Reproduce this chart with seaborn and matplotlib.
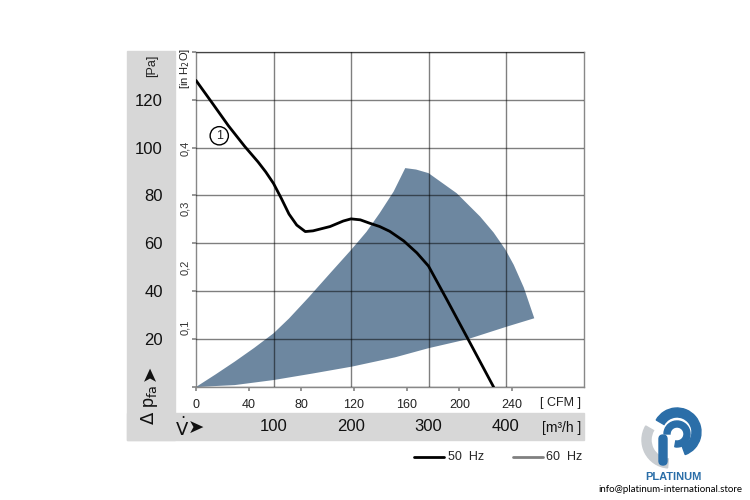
import matplotlib
matplotlib.use('Agg')
import matplotlib.pyplot as plt
import seaborn as sns
from matplotlib.patches import Rectangle, Wedge, FancyBboxPatch
from matplotlib.lines import Line2D

# 50 Hz characteristic (flow in m3/h, pressure in Pa)
curve_flow = [0, 20, 42, 63, 80, 90, 100, 110, 120, 130, 141, 151, 173, 190, 200, 212, 224, 237,
              250, 268, 285, 300, 324, 351, 384]
curve_pa = [128, 119, 109, 100.4, 94, 89.8, 85, 78.8, 72.2, 67.6, 64.9, 65.2, 67, 69.3, 70.2,
            69.8, 68.4, 67, 65, 61, 56, 50.5, 36.3, 20, 0]

# shaded operating range
low_flow = [0, 50, 100, 150, 201, 257, 300, 351, 401, 436.5]
low_pa = [0, 0.8, 2.9, 5.6, 8.5, 12.4, 16.2, 20, 25.2, 28.7]
right_flow = [436.5, 423, 410, 399, 384, 366.5, 336.4, 300, 284, 270]
right_pa = [28.7, 41.5, 51, 57.5, 64.5, 71.2, 80.9, 89.3, 90.8, 91.4]
up_flow = [270, 255, 237, 220, 200, 175, 145, 120, 100, 75, 50, 25, 0]
up_pa = [91.4, 81.6, 72.6, 64.8, 57.2, 48.2, 37.3, 28.6, 22.4, 16.3, 10.6, 5.2, 0]

pa_ticks = [0, 20, 40, 60, 80, 100, 120, 140]
pa_labels = ['', '20', '40', '60', '80', '100', '120', '']
inh2o_vals = [0.1, 0.2, 0.3, 0.4]
inh2o_labels = ['0,1', '0,2', '0,3', '0,4']
cfm_vals = [0, 40, 80, 120, 160, 200, 240]
m3h_vals = [100, 200, 300, 400]

W, H = 750, 500
def fx(x): return x / W
def fy(y): return 1 - y / H

sns.set_theme(style='white')
plt.rcParams['font.family'] = ['Liberation Sans', 'DejaVu Sans']

fig = plt.figure(figsize=(7.5, 5), dpi=100)
fig.patch.set_facecolor('white')

# gray side panels
panel = '#d7d7d7'
fig.add_artist(Rectangle((fx(127), fy(440)), 48 / W, 389 / H, transform=fig.transFigure,
                         color=panel, zorder=0))
fig.add_artist(Rectangle((fx(127), fy(440)), 456.5 / W, 27 / H, transform=fig.transFigure,
                         color=panel, zorder=0))

ax = fig.add_axes([fx(196), fy(387), 387.5 / W, 335.3 / H])
ax.set_xlim(0, 500)
ax.set_ylim(0, 140)

ax.fill(low_flow + right_flow + up_flow, low_pa + right_pa + up_pa,
        color='#6d87a0', lw=0, zorder=1)
sns.lineplot(x=curve_flow, y=curve_pa, sort=False, color='black', lw=2, ax=ax, zorder=3)

# grid: m3/h every 100, Pa every 20
ax.set_axisbelow(False)
ax.set_xticks([v * 1.699 for v in cfm_vals], labels=[str(v) for v in cfm_vals])
ax.set_xticks(m3h_vals, minor=True)
ax.set_yticks(pa_ticks, labels=pa_labels)
ax.grid(which='minor', axis='x', color='black', alpha=0.5, lw=1)
ax.grid(which='major', axis='y', color='black', alpha=0.5, lw=1)
ax.grid(which='major', axis='x', visible=False)
ax.tick_params(axis='x', which='major', bottom=True, direction='out', length=3,
               color='#888888', labelsize=9, pad=6, labelcolor='#222222')
ax.tick_params(axis='x', which='minor', length=0)
ax.tick_params(axis='y', which='major', left=True, direction='out', length=3,
               color='#888888', labelsize=12, pad=21, labelcolor='#111111')
for s in ax.spines.values():
    s.set_color('#888888')
    s.set_linewidth(1)
ax.set_xlabel('')
ax.set_ylabel('')

# inH2O labels
for v, lab in zip(inh2o_vals, inh2o_labels):
    ax.text(-0.028, v * 249.09, lab, transform=ax.get_yaxis_transform(), rotation=90,
            ha='center', va='center', fontsize=8, color='#333333')

# m3/h labels in bottom band
for v in m3h_vals:
    ax.text(v, -0.119, str(v), transform=ax.get_xaxis_transform(), ha='center', va='center',
            fontsize=12, color='#111111')

ax.text(30, 104.9, '1', ha='center', va='center', fontsize=9, zorder=4,
        bbox=dict(boxstyle='circle,pad=0.25', fc='white', ec='black', lw=1))

fig.text(fx(152), fy(66), '[Pa]', rotation=90, ha='center', va='center', fontsize=9, color='#222222')
fig.text(fx(185), fy(68), '[in H$_2$O]', rotation=90, ha='center', va='center', fontsize=8,
         color='#222222')
fig.text(fx(150), fy(405), r'$\Delta$ p$_{\mathrm{fa}}$', rotation=90, ha='center', va='center',
         fontsize=13, color='#111111')
fig.text(fx(150), fy(373), '➤', rotation=90, ha='center', va='center', fontsize=14,
         color='#111111', family='DejaVu Sans')
fig.text(fx(175), fy(428), r'$\dot{\mathrm{V}}$', ha='left', va='center', fontsize=13,
         color='#111111')
fig.text(fx(196), fy(428), '➤', ha='center', va='center', fontsize=14,
         color='#111111', family='DejaVu Sans')
fig.text(fx(561), fy(403), '[ CFM ]', ha='center', va='center', fontsize=9, color='#222222')
fig.text(fx(562), fy(428), '[m³/h ]', ha='center', va='center', fontsize=10, color='#111111')

# legend
fig.add_artist(Line2D([fx(414), fx(444)], [fy(457), fy(457)], color='black', lw=2,
                      transform=fig.transFigure))
fig.text(fx(448), fy(457), '50  Hz', ha='left', va='center', fontsize=9)
fig.add_artist(Line2D([fx(513), fx(543)], [fy(457), fy(457)], color='#808080', lw=2,
                      transform=fig.transFigure))
fig.text(fx(546), fy(457), '60  Hz', ha='left', va='center', fontsize=9)

# logo
lax = fig.add_axes([fx(640), fy(470), 70 / W, 65 / H])
lax.set_xlim(0, 70)
lax.set_ylim(0, 65)
lax.set_aspect('equal')
lax.axis('off')
blue = '#2b6ea8'
lax.add_patch(Wedge((30, 30), 28, 150, 265, width=9, color='#c9cdd1'))
lax.add_patch(Wedge((37, 38), 24, -70, 150, width=9, color=blue))
lax.add_patch(Wedge((37, 36), 13, -100, 180, width=6, color=blue))
lax.add_patch(FancyBboxPatch((19, 5), 8, 30, boxstyle='round,pad=0,rounding_size=4', color=blue))
fig.text(fx(673), fy(477), 'PLATINUM', ha='center', va='center', fontsize=8, color=blue,
         fontweight='bold')
fig.text(fx(670), fy(489), 'info@platinum-international.store', ha='center', va='center',
         fontsize=7, color='black', family=['Lato', 'DejaVu Sans'])

fig.savefig('out.png', dpi=100)
